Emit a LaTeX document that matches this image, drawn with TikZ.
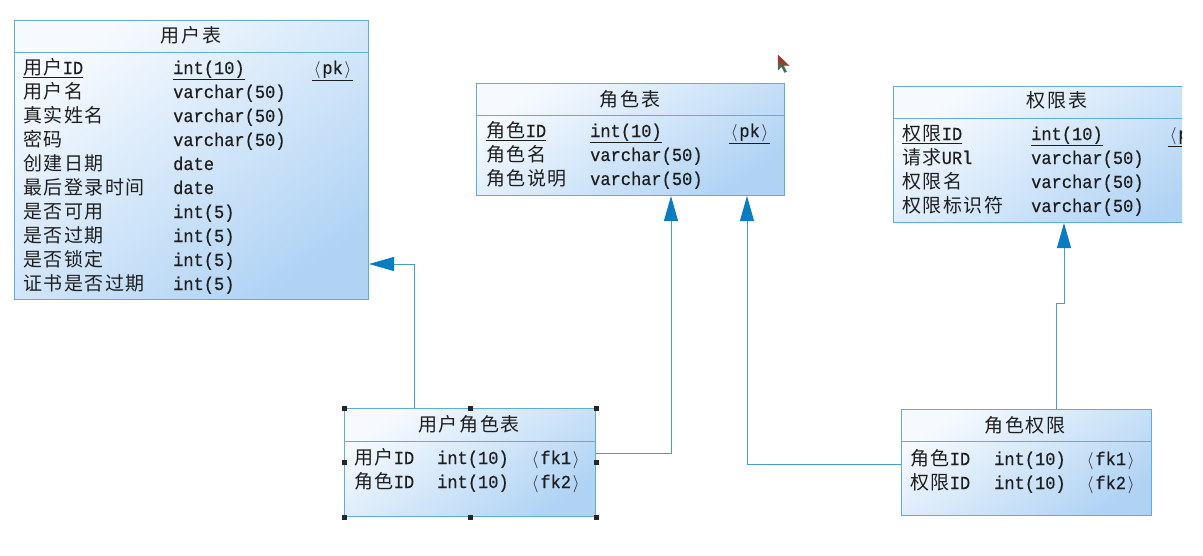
\documentclass[tikz,border=0pt]{standalone}
\usepackage{fontspec}
\setmainfont[FakeStretch=0.93,FakeBold=0.4]{Liberation Mono}
\newfontfamily\cjkf[LetterSpace=8]{Noto Sans CJK SC}
\newcommand\C[1]{{\cjkf\fontsize{19}{19}\selectfont #1}}
\newcommand\LA{\makebox[10.2pt]{$\langle$}}
\newcommand\RA{\makebox[10.2pt]{$\rangle$}}
\usetikzlibrary{arrows.meta,calc}
\definecolor{bord}{RGB}{96,172,218}
\definecolor{linec}{RGB}{70,158,204}
\definecolor{arrc}{RGB}{10,124,194}
\definecolor{gtop}{RGB}{246,250,254}
\definecolor{gbot}{RGB}{176,211,244}
\definecolor{txtc}{RGB}{30,30,30}
\tikzset{
 tbl/.style={draw=bord, line width=1pt, top color=gtop, bottom color=gbot, shading angle=35, inner sep=0pt, anchor=north west},
 div/.style={draw=bord, line width=1pt},
 txt/.style={anchor=base west, inner sep=0pt, text=txtc, font=\fontsize{18.3}{18}\selectfont},
 ttl/.style={anchor=base, inner sep=0pt, text=txtc, font=\fontsize{18.3}{18}\selectfont},
 conn/.style={draw=linec, line width=1pt, -{Triangle[length=25pt,width=14pt,fill=arrc,color=arrc]}},
 handle/.style={fill=black!85, draw=none, minimum size=5pt, inner sep=0pt},
}
\begin{document}
\begin{tikzpicture}[x=1pt,y=-1pt]
\useasboundingbox[fill=white] (0,0) rectangle (1203,555);

% ---------- 用户表 ----------
\node[tbl, minimum width=354pt, minimum height=279pt] (user) at (14,20) {};
\draw[div] ($(user.north west)+(0,32)$) -- ($(user.north east)+(0,32)$);
\node[ttl] (usert) at (191,42) {\C{用户表}};
\node[txt] (u1a) at (23,74) {\underline{\C{用户}ID}};
\node[txt] (u1b) at (173,74) {\underline{int(10)}};
\node[txt] (u1c) at (312,74) {\underline{\LA pk\RA}};
\node[txt] (u2a) at (23,98) {\C{用户名}};
\node[txt] (u2b) at (173,98) {varchar(50)};
\node[txt] (u3a) at (23,122) {\C{真实姓名}};
\node[txt] (u3b) at (173,122) {varchar(50)};
\node[txt] (u4a) at (23,146) {\C{密码}};
\node[txt] (u4b) at (173,146) {varchar(50)};
\node[txt] (u5a) at (23,170) {\C{创建日期}};
\node[txt] (u5b) at (173,170) {date};
\node[txt] (u6a) at (23,194) {\C{最后登录时间}};
\node[txt] (u6b) at (173,194) {date};
\node[txt] (u7a) at (23,218) {\C{是否可用}};
\node[txt] (u7b) at (173,218) {int(5)};
\node[txt] (u8a) at (23,242) {\C{是否过期}};
\node[txt] (u8b) at (173,242) {int(5)};
\node[txt] (u9a) at (23,266) {\C{是否锁定}};
\node[txt] (u9b) at (173,266) {int(5)};
\node[txt] (u10a) at (23,290) {\C{证书是否过期}};
\node[txt] (u10b) at (173,290) {int(5)};

% ---------- 角色表 ----------
\node[tbl, minimum width=308pt, minimum height=112pt] (role) at (476,83) {};
\draw[div] ($(role.north west)+(0,32)$) -- ($(role.north east)+(0,32)$);
\node[ttl] (rolet) at (630,106) {\C{角色表}};
\node[txt] (r1a) at (486,137) {\underline{\C{角色}ID}};
\node[txt] (r1b) at (590,137) {\underline{int(10)}};
\node[txt] (r1c) at (729,137) {\underline{\LA pk\RA}};
\node[txt] (r2a) at (486,161) {\C{角色名}};
\node[txt] (r2b) at (590,161) {varchar(50)};
\node[txt] (r3a) at (486,185) {\C{角色说明}};
\node[txt] (r3b) at (590,185) {varchar(50)};

% ---------- 权限表 (cut off at the right) ----------
\begin{scope}
\clip (880,0) rectangle (1182,555);
\node[tbl, minimum width=328pt, minimum height=136pt] (perm) at (893,86) {};
\draw[div] ($(perm.north west)+(0,32)$) -- ($(perm.north east)+(0,32)$);
\node[ttl] (permt) at (1057,107) {\C{权限表}};
\node[txt] (p1a) at (902,140) {\underline{\C{权限}ID}};
\node[txt] (p1b) at (1031,140) {\underline{int(10)}};
\node[txt] (p1c) at (1168,140) {\underline{\LA pk\RA}};
\node[txt] (p2a) at (902,164) {\C{请求}URl};
\node[txt] (p2b) at (1031,164) {varchar(50)};
\node[txt] (p3a) at (902,188) {\C{权限名}};
\node[txt] (p3b) at (1031,188) {varchar(50)};
\node[txt] (p4a) at (902,212) {\C{权限标识符}};
\node[txt] (p4b) at (1031,212) {varchar(50)};
\end{scope}

% ---------- 用户角色表 ----------
\node[tbl, minimum width=251pt, minimum height=108pt] (ur) at (344,408) {};
\draw[div] ($(ur.north west)+(0,33)$) -- ($(ur.north east)+(0,33)$);
\node[ttl] (urt) at (469,431) {\C{用户角色表}};
\node[txt] (ur1a) at (354,464) {\C{用户}ID};
\node[txt] (ur1b) at (437,464) {int(10)};
\node[txt] (ur1c) at (530,464) {\LA fk1\RA};
\node[txt] (ur2a) at (354,488) {\C{角色}ID};
\node[txt] (ur2b) at (437,488) {int(10)};
\node[txt] (ur2c) at (530,488) {\LA fk2\RA};

% ---------- 角色权限 ----------
\node[tbl, minimum width=250pt, minimum height=106pt] (rp) at (901,409) {};
\draw[div] ($(rp.north west)+(0,32)$) -- ($(rp.north east)+(0,32)$);
\node[ttl] (rpt) at (1025,432) {\C{角色权限}};
\node[txt] (rp1a) at (910,465) {\C{角色}ID};
\node[txt] (rp1b) at (994,465) {int(10)};
\node[txt] (rp1c) at (1085,465) {\LA fk1\RA};
\node[txt] (rp2a) at (910,489) {\C{权限}ID};
\node[txt] (rp2b) at (994,489) {int(10)};
\node[txt] (rp2c) at (1085,489) {\LA fk2\RA};

% ---------- connectors ----------
\coordinate (k1) at (414,264);
\coordinate (k2) at (671,453);
\coordinate (k3) at (747,464);
\coordinate (k4a) at (1056,303);
\coordinate (k4b) at (1064,303);
\draw[conn] (ur.north -| k1) |- (user.east |- k1);
\draw[conn] (ur.east |- k2) -| (role.south -| k2);
\draw[conn] (rp.west |- k3) -| (role.south -| k3);
\draw[conn] (rp.north -| k4a) -- (k4a) -- (k4b) -- (perm.south -| k4b);

% ---------- selection handles ----------
\node[handle] (h1) at (ur.north west) {};
\node[handle] (h2) at (ur.north) {};
\node[handle] (h3) at (ur.north east) {};
\node[handle] (h4) at (ur.west) {};
\node[handle] (h5) at (ur.east) {};
\node[handle] (h6) at (ur.south west) {};
\node[handle] (h7) at (ur.south) {};
\node[handle] (h8) at (ur.south east) {};

% ---------- mouse cursor ----------
\shade[top color=red, middle color=yellow!90!orange, bottom color=green!60!blue, shading angle=-20, draw=black!60, line width=0.4pt]
  (778,55) -- (778,70) -- (781.5,66.5) -- (784.5,72.5) -- (786.5,71.5) -- (783.5,65.5) -- (789,65.5) -- cycle;
\end{tikzpicture}
\end{document}
